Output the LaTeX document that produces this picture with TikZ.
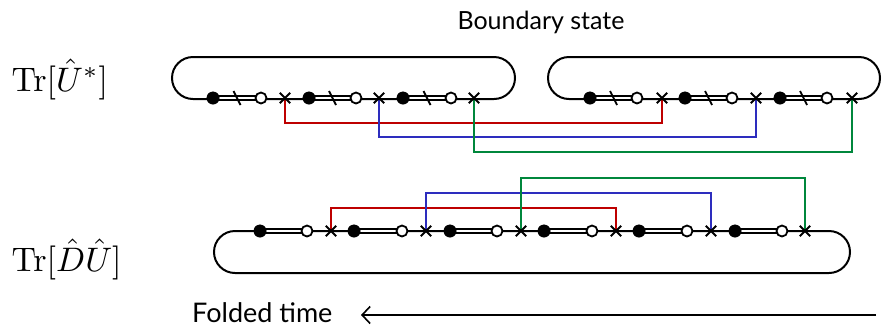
\documentclass[tikz,border=0pt]{standalone}
\usepackage[no-math]{fontspec}
\newfontfamily\labelfont{Lato}
\usetikzlibrary{shapes.misc,arrows.meta,calc}
\pgfdeclarelayer{bg}
\pgfsetlayers{bg,main}
\definecolor{cred}{RGB}{190,0,0}
\definecolor{cblue}{RGB}{45,45,190}
\definecolor{cgreen}{RGB}{0,135,60}
\tikzset{
  loopline/.style={line width=2pt, rounded corners=21pt},
  fdot/.style={circle, fill=black, draw=black, minimum size=12.5pt, inner sep=0pt},
  odot/.style={circle, fill=white, draw=black, line width=1.8pt, minimum size=11pt, inner sep=0pt},
  xmark/.style={cross out, draw=black, line width=1.8pt, minimum size=8.5pt, inner sep=0pt},
  dbl/.style={line width=2pt, double=white, double distance=2.6pt},
  cutmark/.style={line width=1.8pt},
  conn/.style={line width=2pt},
  mathlabel/.style={scale=3.4, inner sep=0pt},
  textlabel/.style={font=\labelfont\fontsize{25}{28}\selectfont, inner sep=0pt},
}
\begin{document}
\begin{tikzpicture}[x=1pt,y=-1pt]
\useasboundingbox (0,0) rectangle (888,333);

% loops
\draw[loopline] (172,57) rectangle (515,99);
\draw[loopline] (548,57) rectangle (880,99);
\draw[loopline] (214,231) rectangle (850,273);

% top markers
\foreach \n/\f/\o/\c in {1/213/261/285, 2/309/356/379, 3/403/451/474, 4/590/637/662, 5/685/732/756, 6/780/827/852} {
  \coordinate (tfc\n) at (\f,98);
  \coordinate (toc\n) at (\o,98);
  \draw[dbl] (tfc\n) -- (toc\n);
  \node[fdot] (tf\n) at (tfc\n) {};
  \node[odot] (to\n) at (toc\n) {};
  \node[xmark] (tx\n) at (\c,98) {};
  \draw[cutmark] ($(tf\n)!0.5!(to\n)+(-3.5,-7)$) -- ++(7,14);
}

% bottom markers
\foreach \n/\f/\o/\c in {1/260/307/331, 2/354/402/426, 3/450/497/521, 4/544/592/616, 5/639/687/711, 6/735/782/805} {
  \coordinate (bfc\n) at (\f,231);
  \coordinate (boc\n) at (\o,231);
  \draw[dbl] (bfc\n) -- (boc\n);
  \node[fdot] (bf\n) at (bfc\n) {};
  \node[odot] (bo\n) at (boc\n) {};
  \node[xmark] (bx\n) at (\c,231) {};
}

% connectors (behind the markers)
\begin{pgfonlayer}{bg}
\draw[conn,cred]   (tx1.center) -- ++(0,25) -| (tx4.center);
\draw[conn,cblue]  (tx2.center) -- ++(0,39) -| (tx5.center);
\draw[conn,cgreen] (tx3.center) -- ++(0,54) -| (tx6.center);
\draw[conn,cred]   (bx1.center) -- ++(0,-23) -| (bx4.center);
\draw[conn,cblue]  (bx2.center) -- ++(0,-38) -| (bx5.center);
\draw[conn,cgreen] (bx3.center) -- ++(0,-53) -| (bx6.center);
\end{pgfonlayer}

% labels
\node[mathlabel, anchor=base west] (lu) at (11,91) {$\mathrm{Tr}[\hat{U}^*]$};
\node[mathlabel, anchor=base west] (ld) at (11,271) {$\mathrm{Tr}[\hat{D}\hat{U}]$};
\node[textlabel] (bs) at (541,22) {Boundary state};
\node[textlabel, anchor=west, font=\labelfont\fontsize{27}{30}\selectfont] (ft) at (192,313) {Folded time};

% time arrow
\coordinate (ts) at (876,315);
\coordinate (te) at (361,315);
\draw[line width=1.6pt, -{Straight Barb[length=8pt,width=17pt,line width=1.6pt]}] (ts) -- (te);
\end{tikzpicture}
\end{document}
